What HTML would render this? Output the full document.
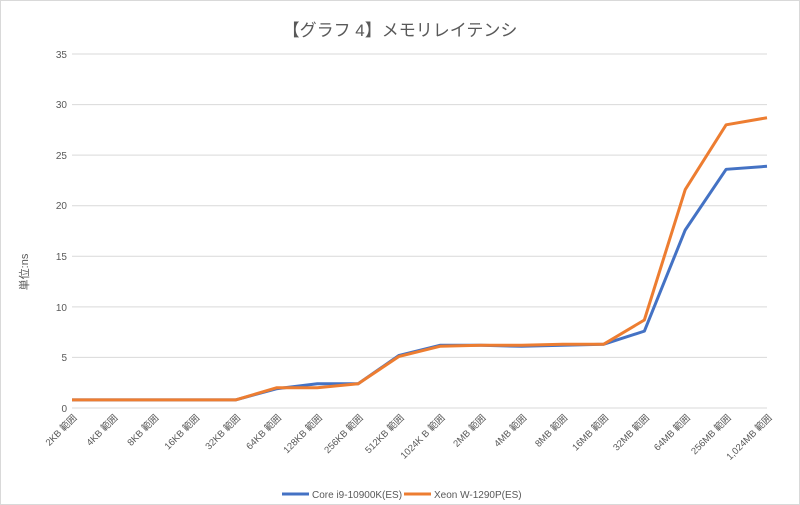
<!DOCTYPE html>
<html><head><meta charset="utf-8"><style>
html,body{margin:0;padding:0;background:#fff;}
svg{display:block;font-family:"Liberation Sans","Noto Sans CJK JP",sans-serif;}
</style></head><body>
<svg width="800" height="505" viewBox="0 0 800 505" xmlns="http://www.w3.org/2000/svg">
<rect x="0.5" y="0.5" width="799" height="504" fill="#fff" stroke="#d9d9d9"/>
<text x="400" y="36" text-anchor="middle" font-size="17" fill="#595959">【グラフ 4】メモリレイテンシ</text>
<text transform="translate(28,272) rotate(-90)" text-anchor="middle" font-size="11" fill="#595959">単位:ns</text>
<g stroke="#d9d9d9" stroke-width="1">
<line x1="72" x2="767" y1="54" y2="54"/>
<line x1="72" x2="767" y1="104.6" y2="104.6"/>
<line x1="72" x2="767" y1="155.1" y2="155.1"/>
<line x1="72" x2="767" y1="205.7" y2="205.7"/>
<line x1="72" x2="767" y1="256.3" y2="256.3"/>
<line x1="72" x2="767" y1="306.9" y2="306.9"/>
<line x1="72" x2="767" y1="357.4" y2="357.4"/>
<line x1="72" x2="767" y1="408" y2="408"/>
</g>
<g font-size="10" fill="#595959" text-anchor="end">
<text x="67" y="58">35</text><text x="67" y="108">30</text><text x="67" y="159">25</text>
<text x="67" y="209">20</text><text x="67" y="260">15</text><text x="67" y="311">10</text>
<text x="67" y="361">5</text><text x="67" y="412">0</text>
</g>
<g font-size="9.5" fill="#595959" text-anchor="end" id="xl"></g>
<polyline id="b" fill="none" stroke="#4472c4" stroke-width="3" stroke-linejoin="round"/>
<polyline id="o" fill="none" stroke="#ed7d31" stroke-width="3" stroke-linejoin="round"/>
<line x1="282" x2="309" y1="494" y2="494" stroke="#4472c4" stroke-width="3"/>
<text x="312" y="498" font-size="10" fill="#595959">Core i9-10900K(ES)</text>
<line x1="404" x2="431" y1="494" y2="494" stroke="#ed7d31" stroke-width="3"/>
<text x="434" y="498" font-size="10" fill="#595959">Xeon W-1290P(ES)</text>
<script>
var L=["2KB 範囲","4KB 範囲","8KB 範囲","16KB 範囲","32KB 範囲","64KB 範囲","128KB 範囲","256KB 範囲","512KB 範囲","1024K B 範囲","2MB 範囲","4MB 範囲","8MB 範囲","16MB 範囲","32MB 範囲","64MB 範囲","256MB 範囲","1,024MB 範囲"];
var B=[0.8,0.8,0.8,0.8,0.8,1.9,2.4,2.4,5.2,6.2,6.2,6.1,6.2,6.3,7.6,17.6,23.6,23.9];
var O=[0.8,0.8,0.8,0.8,0.8,2.0,2.0,2.4,5.1,6.1,6.2,6.2,6.3,6.3,8.7,21.6,28.0,28.7];
function X(i){return 72+i*(695/17);}function Y(v){return 408-v*10.114;}
var ns="http://www.w3.org/2000/svg",g=document.getElementById("xl");
L.forEach(function(s,i){var t=document.createElementNS(ns,"text");var x=X(i)+3,y=416;
t.setAttribute("transform","translate("+x+","+y+") rotate(-45)");t.setAttribute("dy","0.35em");t.textContent=s;g.appendChild(t);});
document.getElementById("b").setAttribute("points",B.map(function(v,i){return X(i)+","+Y(v)}).join(" "));
document.getElementById("o").setAttribute("points",O.map(function(v,i){return X(i)+","+Y(v)}).join(" "));
</script>
</svg>
</body></html>
